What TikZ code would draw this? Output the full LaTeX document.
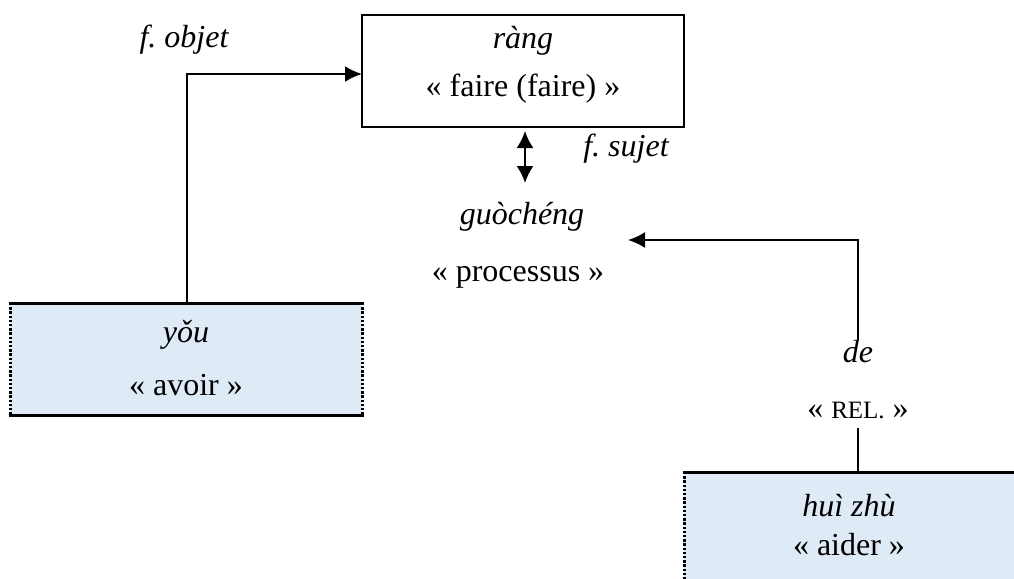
\documentclass[tikz,border=0pt]{standalone}
\usepackage{fontspec}
\setmainfont{Liberation Serif}
\usetikzlibrary{arrows.meta}
\definecolor{boxblue}{HTML}{DEEAF6}
\frenchspacing
\begin{document}
\begin{tikzpicture}[x=0.5pt,y=-0.5pt,
  txt/.style={inner sep=0pt,outer sep=0pt,anchor=base,font=\fontsize{16}{19}\selectfont},
  itxt/.style={txt,font=\fontsize{16}{19}\selectfont\itshape},
  whitebox/.style={draw,line width=1pt,inner sep=0pt,outer sep=0pt,minimum width=161pt,minimum height=56pt},
  bluebox/.style={fill=boxblue,inner sep=0pt,outer sep=0pt},
  solidedge/.style={line width=1.5pt},
  dashedge/.style={line width=1.5pt,dash pattern=on 1.2pt off 0.9pt},
  conn/.style={line width=1pt},
  arr/.style={conn,-{Latex[length=8.5pt,width=8pt]}},
  arrboth/.style={conn,{Latex[length=8.5pt,width=8.5pt]}-{Latex[length=8.5pt,width=8.5pt]}}]
\frenchspacing
\useasboundingbox (0,0) rectangle (1014,579);
% boxes
\node[whitebox] (rang) at (523,71) {};
\node[bluebox,minimum width=176pt,minimum height=56pt] (you) at (186,359) {};
\node[bluebox,minimum width=165pt,minimum height=53.5pt] (huizhu) at (849,525.5) {};
\draw[dashedge] (you.north west) -- (you.south west);
\draw[dashedge] (you.north east) -- (you.south east);
\draw[solidedge] ([xshift=-0.75pt]you.north west) -- ([xshift=0.75pt]you.north east);
\draw[solidedge] ([xshift=-0.75pt]you.south west) -- ([xshift=0.75pt]you.south east);
\draw[dashedge] (huizhu.north west) -- (huizhu.south west);
\draw[solidedge] ([xshift=-0.75pt]huizhu.north west) -- (huizhu.north east);
% texts
\node[itxt] (fobjet) at (184,47) {f. objet};
\node[itxt] (rangtxt) at (523,48) {ràng};
\node[txt] (faire) at (523,96) {« faire (faire) »};
\node[itxt] (fsujet) at (626,156) {f. sujet};
\node[itxt] (guocheng) at (522,224) {guòchéng};
\node[txt] (processus) at (518,281) {« processus »};
\node[itxt] (de) at (858,362) {de};
\node[txt] (rel) at (858,418) {« {\fontsize{12.5}{15}\selectfont REL.} »};
\node[itxt] (youtxt) at (186,342) {yǒu};
\node[txt] (avoir) at (186,395) {« avoir »};
\node[itxt] (huitxt) at (849,516) {huì zhù};
\node[txt] (aider) at (849,555) {« aider »};
% connectors
\coordinate (gtop) at (525,183);
\coordinate (ptip) at (628,240);
\draw[arr] ([xshift=0.5pt]you.north) |- ([yshift=-1.5pt]rang.west);
\draw[arrboth] ([xshift=1pt,yshift=-2pt]rang.south) -- (gtop);
\draw[arr] (de.north) |- (ptip);
\draw[conn] ([yshift=-5pt]rel.south) -- (rel.south |- huizhu.north);
\end{tikzpicture}
\end{document}
